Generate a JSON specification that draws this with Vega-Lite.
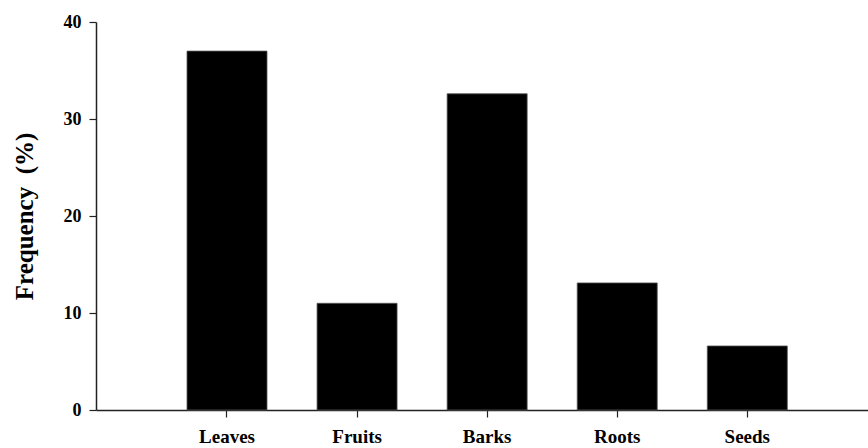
{
  "$schema": "https://vega.github.io/schema/vega-lite/v6.json",
  "description": "Frequency (%) of plant parts used.",
  "autosize": {"type": "none"},
  "padding": {"left": 96, "top": 22, "right": 0, "bottom": 38},
  "width": 772,
  "height": 388,
  "background": "white",
  "config": {
    "view": {"stroke": null},
    "font": "Liberation Serif"
  },
  "data": {
    "values": [
      {"part": "Leaves", "freq": 37.0},
      {"part": "Fruits", "freq": 11.0},
      {"part": "Barks", "freq": 32.6},
      {"part": "Roots", "freq": 13.1},
      {"part": "Seeds", "freq": 6.6}
    ]
  },
  "mark": {"type": "bar", "color": "black", "stroke": "#555", "strokeWidth": 0.8},
  "encoding": {
    "x": {
      "field": "part",
      "type": "nominal",
      "sort": null,
      "scale": {"paddingInner": 0.385, "paddingOuter": 0.66, "align": 0.53},
      "axis": {
        "title": null,
        "labelAngle": 0,
        "labelFont": "Liberation Serif",
        "labelFontWeight": "bold",
        "labelFontSize": 19,
        "labelColor": "black",
        "labelPadding": 10,
        "tickSize": 7,
        "tickColor": "#222",
        "tickWidth": 1.2,
        "domainColor": "#222",
        "domainWidth": 1.5
      }
    },
    "y": {
      "field": "freq",
      "type": "quantitative",
      "scale": {"domain": [0, 40], "nice": false},
      "axis": {
        "title": "Frequency\u00a0\u00a0(%)",
        "values": [0, 10, 20, 30, 40],
        "grid": false,
        "labelFont": "Liberation Serif",
        "labelFontWeight": "bold",
        "labelFontSize": 18,
        "labelColor": "black",
        "labelPadding": 8,
        "tickSize": 7,
        "tickColor": "#222",
        "tickWidth": 1.2,
        "domainColor": "#222",
        "domainWidth": 1.5,
        "titleFont": "Liberation Serif",
        "titleFontWeight": "bold",
        "titleFontSize": 25,
        "titleColor": "black",
        "titlePadding": 26
      }
    }
  }
}
